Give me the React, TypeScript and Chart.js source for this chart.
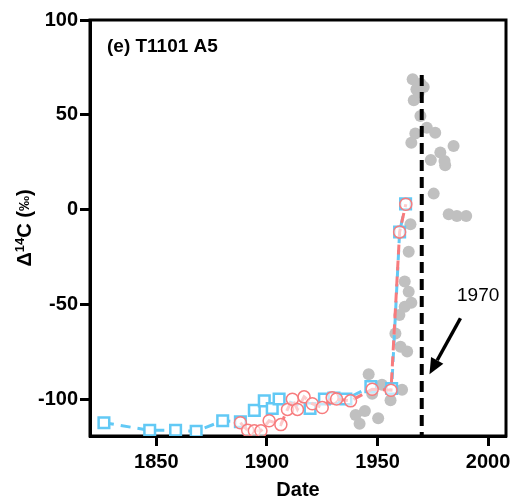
import React, { useEffect, useRef } from "react";
import { Chart, registerables } from "chart.js";

Chart.register(...registerables);

// ---- data ----
const BLUE_YEARS = [1826.3, 1847, 1858.7, 1868, 1880, 1888, 1894.3, 1898.8, 1902.4, 1905.5, 1919.5, 1926, 1930.3, 1935.7, 1947, 1956.4, 1960, 1962.7];
const BLUE_D14C = [-112, -116, -116, -116.5, -111, -111.5, -105.5, -100.5, -104.5, -99.5, -104.5, -99.5, -99, -99.5, -93, -94, -11.6, 3.2];

const RED_YEARS = [1888, 1891.3, 1894.3, 1897.3, 1901, 1906.3, 1909.3, 1911.5, 1913.8, 1916.8, 1920.5, 1925, 1929.5, 1931.5, 1937.8, 1947.6, 1956.1, 1960, 1962.8];
const RED_D14C = [-112, -116, -116.3, -116.3, -111, -113, -105, -99.6, -105, -98.4, -102, -104, -98.8, -99.5, -100.5, -94.4, -94.9, -11.6, 3];

const GRAY_YEARS = [1965.9, 1970.9, 1968.6, 1966.4, 1969.5, 1967.6, 1969.4, 1972.3, 1976.1, 1967.1, 1965.3, 1984.4, 1978.4, 1974.1, 1980.3, 1980.6, 1975.4, 1982.2, 1985.9, 1990.1, 1964.9, 1964.1, 1962.3, 1964.1, 1965.3, 1962.3, 1959.9, 1958.1, 1960.4, 1963.4, 1946, 1952, 1961.1, 1947.6, 1955.9, 1944.3, 1940.1, 1950.3, 1941.9];
const GRAY_D14C = [68.8, 64.7, 61.7, 57.7, 66.5, 63.5, 49.5, 43.3, 40.7, 40.2, 35.4, 33.7, 30.2, 26.3, 25.8, 23.5, 8.6, -2.3, -3.2, -3.2, -7.5, -22, -37.7, -43, -48.8, -51, -55.3, -65, -72, -74.5, -86.5, -92, -94.7, -96.7, -100.2, -105.8, -108, -109.6, -112.5];

const MARKER_YEAR = [1970, 1970];
const MARKER_D14C = [71, -119];

const X_TICKS = [1850, 1900, 1950, 2000];
const Y_TICKS = [-100, -50, 0, 50, 100];
const X_MIN = 1820;
const X_MAX = 2008.1;
const Y_MIN = -119;
const Y_MAX = 100;

const PANEL_LABEL = "(e) T1101 A5";
const ARROW_LABEL = "1970";
const ARROW_FROM = [1987.5, -57];
const ARROW_TO = [1973.5, -86.5];
const ARROW_TEXT_AT = [1995.5, -45];

const FONT = "'Liberation Sans', Arial, Helvetica, sans-serif";

const pts = (xs: number[], ys: number[]) => xs.map((x, i) => ({ x, y: ys[i] }));

const decorPlugin = {
  id: "decor",
  beforeDatasetsDraw(chart: any) {
    const { ctx, chartArea } = chart;
    ctx.save();
    ctx.strokeStyle = "#000";
    ctx.lineWidth = 3;
    ctx.strokeRect(chartArea.left, chartArea.top, chartArea.right - chartArea.left, chartArea.bottom - chartArea.top);
    ctx.restore();
  },
  afterDraw(chart: any) {
    const { ctx, chartArea } = chart;
    const xs = chart.scales.x;
    const ys = chart.scales.y;
    ctx.save();
    // panel label
    ctx.fillStyle = "#000";
    ctx.font = `bold 19px ${FONT}`;
    ctx.textBaseline = "middle";
    ctx.textAlign = "left";
    ctx.fillText(PANEL_LABEL, chartArea.left + 17, chartArea.top + 27);

    // arrow
    const x1 = xs.getPixelForValue(ARROW_FROM[0]);
    const y1 = ys.getPixelForValue(ARROW_FROM[1]);
    const x2 = xs.getPixelForValue(ARROW_TO[0]);
    const y2 = ys.getPixelForValue(ARROW_TO[1]);
    const ang = Math.atan2(y2 - y1, x2 - x1);
    const head = 16;
    const bx = x2 - head * Math.cos(ang);
    const by = y2 - head * Math.sin(ang);
    ctx.strokeStyle = "#000";
    ctx.lineWidth = 3.5;
    ctx.beginPath();
    ctx.moveTo(x1, y1);
    ctx.lineTo(bx, by);
    ctx.stroke();
    ctx.beginPath();
    ctx.moveTo(x2, y2);
    ctx.lineTo(bx + 7 * Math.cos(ang + Math.PI / 2), by + 7 * Math.sin(ang + Math.PI / 2));
    ctx.lineTo(bx + 7 * Math.cos(ang - Math.PI / 2), by + 7 * Math.sin(ang - Math.PI / 2));
    ctx.closePath();
    ctx.fill();

    // arrow label
    ctx.font = `19px ${FONT}`;
    ctx.textAlign = "center";
    ctx.fillText(ARROW_LABEL, xs.getPixelForValue(ARROW_TEXT_AT[0]), ys.getPixelForValue(ARROW_TEXT_AT[1]));

    // y axis title with superscript
    const big = `bold 20px ${FONT}`;
    const small = `bold 13px ${FONT}`;
    const parts: [string, string, number][] = [
      ["Δ", big, 0],
      ["14", small, -7],
      ["C (", big, 0],
      ["‰", `bold 15px ${FONT}`, -2],
      [")", big, 0],
    ];
    let total = 0;
    for (const [t, f] of parts) {
      ctx.font = f;
      total += ctx.measureText(t).width;
    }
    ctx.translate(24, (chartArea.top + chartArea.bottom) / 2);
    ctx.rotate(-Math.PI / 2);
    ctx.textAlign = "left";
    ctx.textBaseline = "alphabetic";
    let cx = -total / 2;
    for (const [t, f, dy] of parts) {
      ctx.font = f;
      ctx.fillText(t, cx, 7 + dy);
      cx += ctx.measureText(t).width;
    }
    ctx.restore();
  },
};

export default function App() {
  const ref = useRef<HTMLCanvasElement | null>(null);
  useEffect(() => {
    if (!ref.current) return;
    const chart = new Chart(ref.current, {
      type: "scatter",
      data: {
        datasets: [
          {
            type: "line",
            label: "1970",
            data: pts(MARKER_YEAR, MARKER_D14C),
            borderColor: "#000",
            borderWidth: 4,
            borderDash: [11, 6],
            pointRadius: 0,
            order: 1,
          },
          {
            type: "line",
            label: "red",
            data: pts(RED_YEARS, RED_D14C),
            borderColor: "#f77b7d",
            borderWidth: 3,
            borderDash: [10, 6],
            pointStyle: "circle",
            pointRadius: 6,
            pointBorderWidth: 1.5,
            pointBorderColor: "#f77b7d",
            pointBackgroundColor: "rgba(255,255,255,0.6)",
            order: 2,
          },
          {
            type: "line",
            label: "blue",
            data: pts(BLUE_YEARS, BLUE_D14C),
            borderColor: "#62c9f5",
            borderWidth: 3,
            borderDash: [10, 7],
            pointStyle: "rect",
            pointRadius: 7.5,
            pointBorderWidth: 2.5,
            pointBorderColor: "#62c9f5",
            pointBackgroundColor: "#ffffff",
            order: 3,
          },
          {
            label: "gray",
            data: pts(GRAY_YEARS, GRAY_D14C),
            backgroundColor: "#c0c0c0",
            borderColor: "#c0c0c0",
            borderWidth: 0,
            pointRadius: 6,
            order: 4,
          },
        ],
      },
      options: {
        animation: false,
        responsive: false,
        maintainAspectRatio: false,
        layout: { padding: { left: 0, right: 8, top: 20, bottom: 0 } },
        plugins: { legend: { display: false }, tooltip: { enabled: false } },
        scales: {
          x: {
            type: "linear",
            min: X_MIN,
            max: X_MAX,
            afterBuildTicks: (s: any) => {
              s.ticks = X_TICKS.map((v) => ({ value: v }));
            },
            afterFit: (s: any) => {
              s.height = 66;
            },
            grid: { drawOnChartArea: false, drawTicks: true, tickLength: 10, tickWidth: 3, tickColor: "#000" },
            border: { display: true, width: 3, color: "#000" },
            ticks: { color: "#000", font: { family: FONT, size: 20, weight: "bold" }, padding: 4, maxRotation: 0, callback: (v: any) => String(v) },
            title: { display: true, text: "Date", color: "#000", font: { family: FONT, size: 20, weight: "bold" }, padding: { top: 0, bottom: 0 } },
          },
          y: {
            type: "linear",
            min: Y_MIN,
            max: Y_MAX,
            afterBuildTicks: (s: any) => {
              s.ticks = Y_TICKS.map((v) => ({ value: v }));
            },
            afterFit: (s: any) => {
              s.width = 90;
            },
            grid: { drawOnChartArea: false, drawTicks: true, tickLength: 10, tickWidth: 3, tickColor: "#000" },
            border: { display: true, width: 3, color: "#000" },
            ticks: { color: "#000", font: { family: FONT, size: 20, weight: "bold" }, padding: 2, callback: (v: any) => String(v) },
          },
        },
      },
      plugins: [decorPlugin],
    } as any);
    return () => chart.destroy();
  }, []);
  return (
    <div style={{ position: "fixed", left: 0, top: 0, width: 516, height: 502, background: "#fff" }}>
      <canvas ref={ref} width={516} height={502} style={{ width: 516, height: 502, display: "block" }} />
    </div>
  );
}
